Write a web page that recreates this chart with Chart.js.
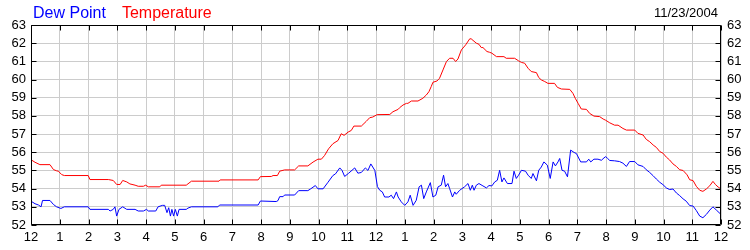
<!DOCTYPE html>
<html><head><meta charset="utf-8">
<script src="https://cdn.jsdelivr.net/npm/chart.js@4/dist/chart.umd.min.js"></script>
<style>html,body{margin:0;padding:0;background:#fff}</style>
</head><body>
<canvas id="c" width="750" height="250"></canvas>
<script>
const hourLabels = ['12','1','2','3','4','5','6','7','8','9','10','11','12','1','2','3','4','5','6','7','8','9','10','11','12'];
const yTickLabels = ['52','53','54','55','56','57','58','59','60','61','62','63'];
const dateLabel = '11/23/2004';

const tempHours = [0.00,0.14,0.31,0.66,0.78,0.89,0.95,1.07,1.16,1.99,2.05,2.69,2.86,2.98,3.10,3.19,3.33,3.44,3.62,3.73,3.91,3.99,4.08,4.48,4.53,5.40,5.58,6.54,6.58,7.90,7.98,8.36,8.42,8.57,8.65,8.82,9.17,9.31,9.63,9.81,9.98,10.10,10.21,10.35,10.50,10.68,10.79,10.89,11.03,11.14,11.23,11.49,11.66,11.78,11.89,12.04,12.48,12.59,12.77,12.82,12.94,13.06,13.11,13.23,13.46,13.63,13.75,13.84,13.92,13.98,14.12,14.21,14.33,14.45,14.56,14.68,14.77,14.85,14.97,15.12,15.26,15.31,15.49,15.58,15.66,15.72,15.86,15.95,16.03,16.19,16.45,16.53,16.82,16.96,17.06,17.17,17.29,17.40,17.58,17.66,17.75,17.87,17.98,18.21,18.31,18.45,18.74,18.85,18.93,19.03,19.14,19.32,19.43,19.58,19.78,19.90,19.99,20.13,20.30,20.42,20.59,20.71,21.00,21.11,21.29,21.40,21.52,21.64,21.75,21.87,21.98,22.10,22.21,22.33,22.45,22.56,22.68,22.82,22.91,23.03,23.14,23.26,23.37,23.49,23.61,23.72,23.81,23.90,24.00];
const tempValues = [55.59,55.45,55.32,55.32,55.05,54.98,54.96,54.77,54.72,54.72,54.50,54.50,54.45,54.23,54.23,54.45,54.37,54.26,54.19,54.13,54.13,54.19,54.10,54.10,54.19,54.19,54.41,54.41,54.48,54.48,54.66,54.67,54.72,54.72,54.96,55.03,55.03,55.25,55.25,55.46,55.62,55.62,55.82,56.19,56.47,56.65,57.02,56.93,57.11,57.20,57.44,57.44,57.70,57.90,57.94,58.07,58.08,58.23,58.36,58.45,58.60,58.69,58.69,58.82,58.82,58.97,59.15,59.33,59.61,59.85,59.92,60.07,60.53,60.99,61.17,61.17,60.99,61.13,61.63,61.91,62.24,62.24,62.00,61.94,61.76,61.76,61.54,61.50,61.45,61.26,61.26,61.17,61.17,61.03,60.94,60.90,60.62,60.44,60.38,60.11,59.98,59.89,59.79,59.79,59.57,59.48,59.46,59.24,58.97,58.69,58.38,58.36,58.14,57.99,57.96,57.83,57.76,57.62,57.49,57.49,57.31,57.22,57.22,57.04,56.95,56.71,56.58,56.40,56.27,56.04,55.95,55.73,55.58,55.36,55.22,55.04,55.00,54.76,54.49,54.44,54.13,53.91,53.85,53.98,54.16,54.40,54.22,54.09,53.98];

const dewHours = [0.00,0.14,0.26,0.35,0.40,0.66,0.78,0.89,1.04,1.16,1.99,2.05,2.69,2.75,2.86,2.92,2.98,3.06,3.19,3.33,3.62,3.73,3.91,4.02,4.08,4.34,4.42,4.57,4.65,4.73,4.79,4.85,4.90,4.96,5.02,5.09,5.15,5.40,5.46,5.58,6.50,6.56,7.90,7.98,8.53,8.59,8.65,8.77,8.82,9.17,9.31,9.63,9.73,9.89,9.98,10.16,10.33,10.50,10.59,10.74,10.82,10.91,11.05,11.26,11.37,11.49,11.63,11.72,11.82,11.96,12.05,12.13,12.22,12.30,12.45,12.53,12.61,12.71,12.77,12.88,13.00,13.11,13.19,13.29,13.40,13.50,13.58,13.66,13.75,13.89,13.98,14.08,14.16,14.27,14.35,14.42,14.50,14.56,14.66,14.74,14.79,14.91,15.08,15.20,15.28,15.35,15.41,15.49,15.58,15.72,15.84,15.93,16.03,16.13,16.22,16.30,16.38,16.45,16.57,16.73,16.80,16.88,16.96,17.06,17.20,17.29,17.40,17.46,17.58,17.66,17.75,17.84,17.96,18.06,18.16,18.24,18.33,18.39,18.47,18.56,18.66,18.77,18.89,18.97,19.12,19.32,19.40,19.47,19.58,19.72,19.84,19.93,19.99,20.05,20.13,20.30,20.47,20.59,20.71,20.82,21.00,21.11,21.29,21.40,21.52,21.64,21.75,21.87,21.98,22.10,22.21,22.33,22.45,22.56,22.68,22.79,22.91,23.03,23.14,23.26,23.37,23.49,23.61,23.72,23.84,24.00];
const dewValues = [53.31,53.17,53.10,53.00,53.35,53.35,53.13,53.00,52.91,53.00,53.00,52.86,52.86,52.77,52.86,53.00,52.49,52.86,53.00,52.86,52.86,52.77,52.77,52.86,52.77,52.77,53.00,53.08,53.08,52.68,52.95,52.49,52.86,52.49,52.86,52.49,52.86,52.86,52.93,53.00,53.00,53.10,53.10,53.32,53.29,53.34,53.56,53.56,53.65,53.65,53.89,53.89,53.99,54.17,53.99,53.99,54.35,54.72,54.81,55.14,55.00,54.67,54.85,55.14,54.85,54.89,55.14,55.00,55.36,55.00,54.11,53.91,53.82,53.54,53.54,53.64,53.45,53.82,53.54,53.27,53.08,53.27,53.64,53.08,53.36,54.10,54.19,53.45,53.82,54.33,53.54,53.64,54.10,54.19,54.74,54.10,54.28,54.01,53.54,53.82,53.69,53.91,54.10,54.28,53.91,54.19,53.91,54.19,54.28,54.15,54.04,54.17,54.15,54.37,54.46,55.01,54.37,54.59,54.28,54.28,54.96,54.56,54.74,55.01,54.96,54.74,54.56,54.83,54.43,55.01,55.19,55.47,55.29,54.56,55.47,55.25,55.47,55.66,55.01,54.96,54.65,56.12,55.99,55.93,55.47,55.47,55.62,55.47,55.62,55.62,55.56,55.69,55.76,55.67,55.55,55.53,55.49,55.40,55.22,55.49,55.49,55.31,55.22,55.04,54.89,54.71,54.53,54.35,54.22,54.04,53.95,53.98,53.76,53.62,53.44,53.31,53.07,53.04,52.80,52.49,52.40,52.58,52.82,53.00,52.82,52.58];

const toPts = (xs, ys) => xs.map((h, i) => ({x: h, y: ys[i]}));
const FONT = 'Liberation Sans, Arial, sans-serif';
const tickFont = {family: FONT, size: 13};

const framePlugin = {
  id: 'frame',
  afterDraw(chart) {
    const {ctx, chartArea: a, scales} = chart;
    const L = Math.round(a.left) + 0.5, R = Math.round(a.right) - 0.5;
    const T = Math.round(a.top) + 0.5, B = Math.round(a.bottom) - 0.5;
    ctx.save();
    ctx.strokeStyle = '#000';
    ctx.lineWidth = 1;
    ctx.beginPath();
    ctx.rect(L, T, R - L, B - T);
    const tl = 5;
    scales.x.ticks.forEach(t => {
      const px = Math.round(scales.x.getPixelForValue(t.value)) + 0.5;
      ctx.moveTo(px, B); ctx.lineTo(px, B - tl);
      ctx.moveTo(px, T); ctx.lineTo(px, T + tl);
    });
    scales.y.ticks.forEach(t => {
      const py = Math.round(scales.y.getPixelForValue(t.value)) + 0.5;
      ctx.moveTo(L, py); ctx.lineTo(L + tl, py);
      ctx.moveTo(R, py); ctx.lineTo(R - tl, py);
    });
    ctx.stroke();
    ctx.textBaseline = 'alphabetic';
    ctx.font = '16px ' + FONT;
    ctx.textAlign = 'left';
    let x = 33;
    chart.data.datasets.forEach(ds => {
      ctx.fillStyle = ds.borderColor;
      ctx.fillText(ds.label, x, 18);
      x += ctx.measureText(ds.label).width + 16;
    });
    ctx.font = '13px ' + FONT;
    ctx.fillStyle = '#000';
    ctx.textAlign = 'right';
    ctx.fillText(dateLabel, 718, 17);
    ctx.restore();
  }
};

new Chart(document.getElementById('c'), {
  type: 'line',
  data: {
    datasets: [
      {label: 'Dew Point', data: toPts(dewHours, dewValues), borderColor: '#0000ff', borderWidth: 1, pointRadius: 0, tension: 0, fill: false},
      {label: 'Temperature', data: toPts(tempHours, tempValues), borderColor: '#ff0000', borderWidth: 1, pointRadius: 0, tension: 0, fill: false}
    ]
  },
  options: {
    responsive: false,
    devicePixelRatio: 1,
    animation: false,
    layout: {padding: {top: 25, left: 0, right: 0, bottom: 0}},
    plugins: {legend: {display: false}, tooltip: {enabled: false}, title: {display: false}},
    scales: {
      x: {
        type: 'linear', position: 'bottom', min: 0, max: 24,
        ticks: {stepSize: 1, autoSkip: false, maxRotation: 0, color: '#000', font: tickFont, padding: 5,
                callback: v => hourLabels[v]},
        grid: {color: '#cccccc', drawTicks: false, lineWidth: 1},
        border: {display: false},
        afterFit: s => { s.height = 25; }
      },
      y: {
        type: 'linear', position: 'left', min: 52, max: 63,
        ticks: {stepSize: 1, autoSkip: false, color: '#000', font: tickFont, padding: 5,
                callback: v => yTickLabels[v - 52]},
        grid: {color: '#cccccc', drawTicks: false, lineWidth: 1},
        border: {display: false},
        afterFit: s => { s.width = 31; }
      },
      y2: {
        type: 'linear', position: 'right', min: 52, max: 63,
        ticks: {stepSize: 1, autoSkip: false, color: '#000', font: tickFont, padding: 6,
                callback: v => yTickLabels[v - 52]},
        grid: {display: false, drawTicks: false},
        border: {display: false},
        afterFit: s => { s.width = 29; }
      }
    }
  },
  plugins: [framePlugin]
});
</script>
</body></html>
